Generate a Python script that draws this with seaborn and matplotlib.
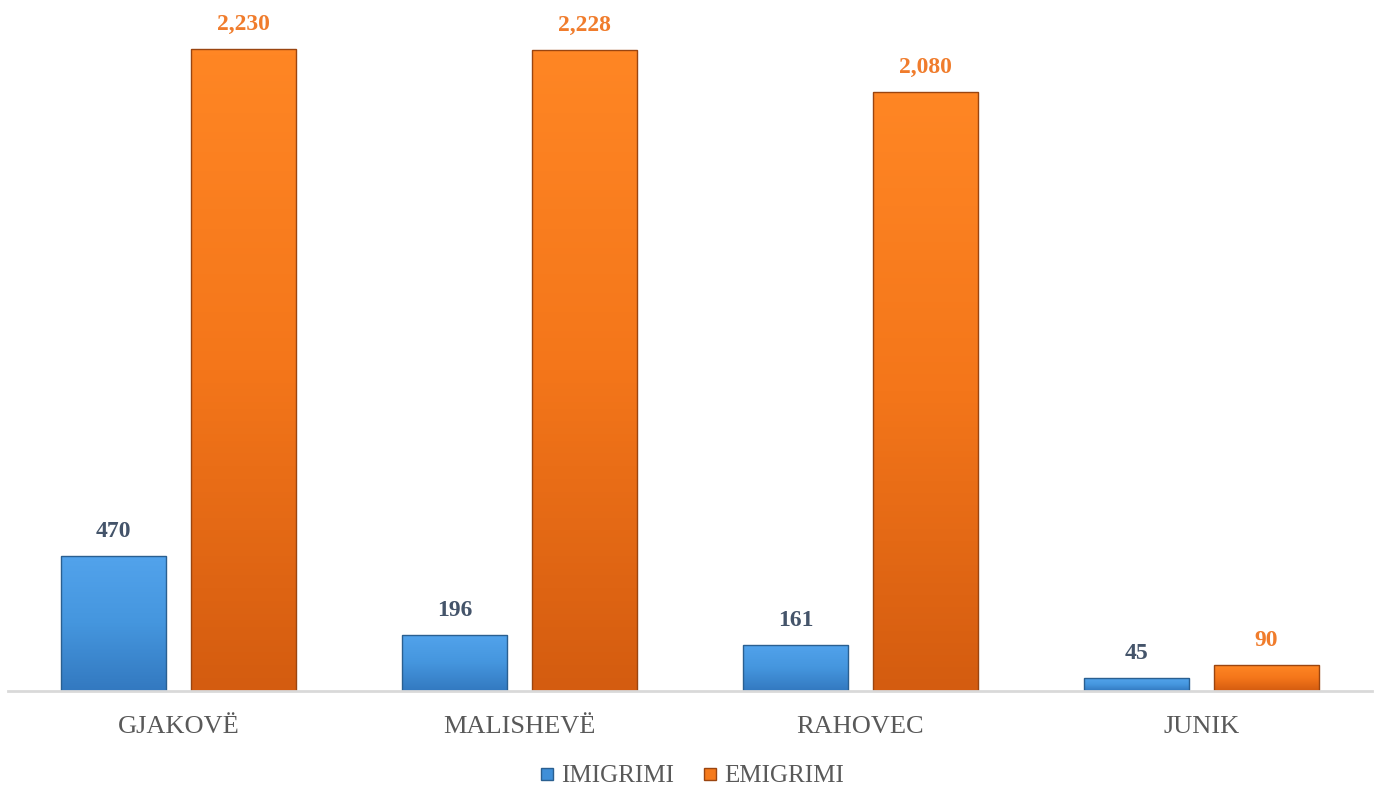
import numpy as np
import pandas as pd
import seaborn as sns
import matplotlib.pyplot as plt
from matplotlib.colors import LinearSegmentedColormap
from matplotlib.lines import Line2D

komunat = ["GJAKOVË", "MALISHEVË", "RAHOVEC", "JUNIK"]
imigrimi = [470, 196, 161, 45]
emigrimi = [2230, 2228, 2080, 90]
seritë = ["IMIGRIMI", "EMIGRIMI"]

df = pd.DataFrame({
    "komuna": komunat * 2,
    "seria": [seritë[0]] * 4 + [seritë[1]] * 4,
    "vlera": imigrimi + emigrimi,
})

sns.set_theme(style="white")
plt.rcParams["font.family"] = ["Liberation Serif", "DejaVu Serif"]

blue = "#3f8fd8"
orange = "#f57a1c"

fig = plt.figure(figsize=(13.81, 7.91), dpi=100)
ax = fig.add_axes([8 / 1381, 1 - 691 / 791, 1364 / 1381, 671 / 791])

sns.barplot(data=df, x="komuna", y="vlera", hue="seria", palette=[blue, orange],
            width=0.762, gap=0.19, ax=ax, legend=False)

# gradient fill (lighter top, darker bottom) + darker edge on each bar
grads = {
    blue: (["#52a3ec", "#4596de", "#3379c0"], "#2a5f90"),
    orange: (["#ff8624", "#f4761a", "#d45c10"], "#9a4510"),
}
for cont, col in zip(ax.containers, [blue, orange]):
    cols, edge = grads[col]
    cmap = LinearSegmentedColormap.from_list("g", cols)
    for p in cont.patches:
        x0, y0 = p.get_x(), p.get_y()
        w, h = p.get_width(), p.get_height()
        p.set_facecolor("none")
        p.set_edgecolor(edge)
        p.set_linewidth(1.0)
        img = ax.imshow(np.linspace(0, 1, 100).reshape(-1, 1), cmap=cmap,
                        extent=[x0, x0 + w, y0, y0 + h], aspect="auto", zorder=1.5)
        img.set_clip_path(p)
        p.set_zorder(2)

ax.set_ylim(0, 2331)
ax.set_xlim(-0.5, 3.5)

ax.bar_label(ax.containers[0], labels=[f"{v:,}" for v in imigrimi], padding=10,
             fontsize=17, fontweight="bold", color="#44546a")
ax.bar_label(ax.containers[1], labels=[f"{v:,}" for v in emigrimi], padding=10,
             fontsize=17, fontweight="bold", color="#f07c2c")

sns.despine(ax=ax, left=True)
ax.spines["bottom"].set_color("#d9d9d9")
ax.spines["bottom"].set_linewidth(2)
ax.set_yticks([])
ax.set_xlabel("")
ax.set_ylabel("")
ax.tick_params(axis="x", length=0, pad=18, labelsize=19, labelcolor="#595959")

handles = [Line2D([], [], marker="s", linestyle="", markersize=9, markerfacecolor=c,
                  markeredgecolor=e) for c, e in [(blue, "#2a5f90"), (orange, "#9a4510")]]
fig.legend(handles, seritë, loc="center", bbox_to_anchor=(0.5, 1 - 776 / 791), ncol=2,
           frameon=False, fontsize=18, handlelength=0.8, handletextpad=0.2,
           columnspacing=1.0, labelcolor="#595959")

fig.savefig("out.png", dpi=100)
